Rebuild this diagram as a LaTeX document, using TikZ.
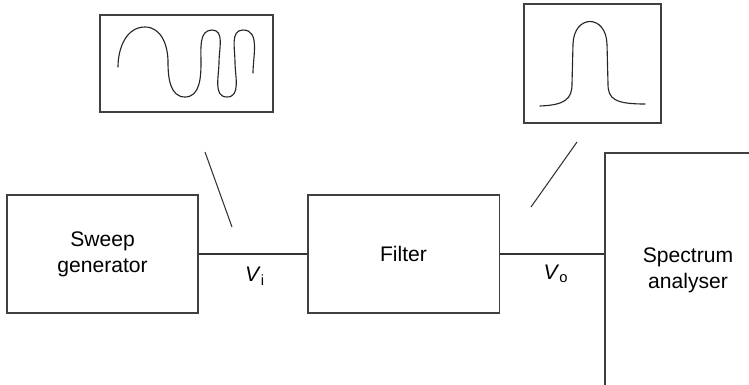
\documentclass[tikz,border=0pt]{standalone}
\usepackage{fontspec}
\setmainfont{Liberation Sans}
\usetikzlibrary{positioning}

\begin{document}
\begin{tikzpicture}[
    x=0.025cm, y=0.025cm,
    block/.style={rectangle, draw=black!75, line width=0.75pt, inner sep=0pt, align=center,
                  minimum width=4.775cm, minimum height=2.95cm, font=\fontsize{15pt}{18.5pt}\selectfont},
    screen/.style={rectangle, draw=black!75, line width=0.75pt, inner sep=0pt},
    wire/.style={draw=black!80, line width=0.75pt},
    trace/.style={draw=black!85, line width=0.8pt, line cap=round},
    label_text/.style={inner sep=0pt, font=\fontsize{15pt}{18pt}\selectfont}
]

% --- Frame ---
\useasboundingbox (0,0) rectangle (749,384);
\clip (0,0) rectangle (749,384);

% --- Main chain ---
\node[block] (gen) at (102.5,130) {Sweep\\generator};
\node[block] (filt) at (403.5,130) {Filter};
\node[block, minimum width=4.15cm, minimum height=5.85cm] (spec) at (688,114) {Spectrum\\analyser};

\draw[wire] (gen.east) -- (filt.west);
\draw[wire] (filt.east) -- (spec.west |- filt.east);

\node[label_text] (Vi) at (255,108) {\textit{V}\textsubscript{i}};
\node[label_text] (Vo) at (556,110) {\textit{V}\textsubscript{o}};

% --- Scope displays ---
\node[screen, minimum width=4.325cm, minimum height=2.425cm] (scopeIn) at (186.5,320.5) {};
\node[screen, minimum width=3.425cm, minimum height=2.975cm] (scopeOut) at (592.5,320.5) {};

% Pointer lines
\coordinate (probeIn_top) at (205,232);
\coordinate (probeIn_end) at (232,157);
\coordinate (probeOut_top) at (577,242);
\coordinate (probeOut_end) at (531,177);
\draw[wire] (probeIn_top) -- (probeIn_end);
\draw[wire] (probeOut_top) -- (probeOut_end);

% Swept sine
\draw[trace] (118,317) to[out=90,in=180] (145,357)
    to[out=0,in=90] (168,322) to[out=-90,in=180] (185,287)
    to[out=0,in=-90] (201,322) to[out=90,in=180] (212,354)
    to[out=0,in=90] (219,322) to[out=-90,in=180] (227,287)
    to[out=0,in=-90] (235,322) to[out=90,in=180] (243,354)
    to[out=0,in=90] (253,311);

% Filter response
\draw[trace] (540,278) .. controls (565,279) and (572,285) .. (572,300)
    -- (573,340) .. controls (574,370) and (606,370) .. (607,340)
    -- (608,300) .. controls (608,285) and (615,280) .. (645,280);

\end{tikzpicture}
\end{document}
